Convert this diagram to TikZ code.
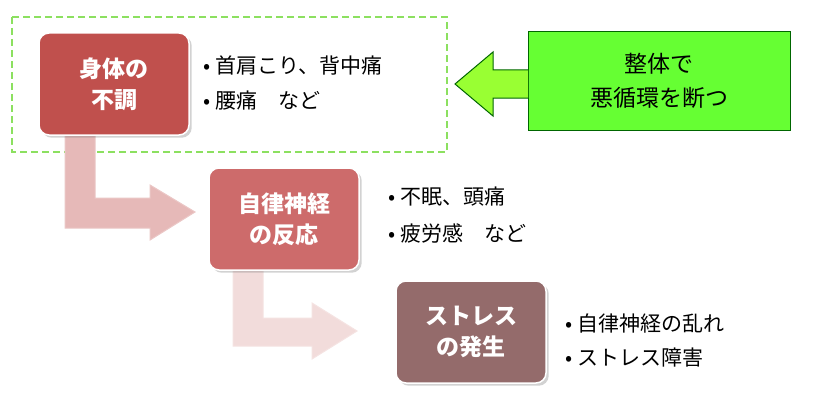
\documentclass[tikz,border=0pt]{standalone}
\usepackage{fontspec}
\setmainfont{Noto Sans CJK JP}
\usetikzlibrary{shadows}
\definecolor{redA}{HTML}{C0504D}
\definecolor{redB}{HTML}{CD6B6B}
\definecolor{redC}{HTML}{946B6B}
\definecolor{pinkA}{HTML}{E6B9B8}
\definecolor{pinkB}{HTML}{F2DCDB}
\definecolor{greenA}{HTML}{66FF33}
\definecolor{greenB}{HTML}{99FF33}
\definecolor{dashG}{HTML}{8CE060}
\tikzset{
	stepbox/.style={draw=white, line width=1.5pt, rounded corners=10pt,
		minimum width=150pt, minimum height=102pt, text=white, font=\fontsize{23}{31}\selectfont\bfseries,
		align=center, drop shadow={opacity=0.35}},
	item/.style={anchor=west, font=\fontsize{21}{25}\selectfont}
}
\begin{document}
\begin{tikzpicture}[x=1pt,y=-1pt]
		\useasboundingbox[fill=white] (0,0) rectangle (833,404);
		
		\draw[dashG, line width=2pt, dash pattern=on 7pt off 4pt] (12,17) rectangle (447,152);
		
		% bent arrows
		\draw[pinkA!80!white, fill=pinkA, line width=1pt] (65,135) -- (95,135) -- (95,198) -- (150,198) -- (150,185) -- (195,212) -- (150,240) -- (150,228) -- (65,228) -- cycle;
		\draw[pinkB!80!white, fill=pinkB, line width=1pt] (233,270) -- (263,270) -- (263,318) -- (312,318) -- (312,303) -- (357,331) -- (312,359) -- (312,346) -- (233,346) -- cycle;
		
		\node[stepbox, fill=redA] (body) at (114,84) {身体の\\不調};
		\node[stepbox, fill=redB] (nerve) at (284,219) {自律神経\\の反応};
		\node[stepbox, fill=redC] (stress) at (471,332) {ストレス\\の発生};
		
		\node[item] (b1) at (200,65) {•\ 首肩こり、背中痛};
		\node[item] (b2) at (200,101) {•\ 腰痛　など};
		\node[item] (n1) at (385,197) {•\ 不眠、頭痛};
		\node[item] (n2) at (385,233) {•\ 疲労感　など};
		\node[item] (s1) at (562,324) {•\ 自律神経の乱れ};
		\node[item] (s2) at (562,358) {•\ ストレス障害};
		
		\node[draw=green!40!black, fill=greenA, line width=1pt, minimum width=262pt, minimum height=98pt,
			align=center, font=\fontsize{23}{34}\selectfont] (cure) at (659,81) {整体で\\悪循環を断つ};
		\draw[green!40!black, fill=greenB, line width=1pt] (528,70) -- (493,70) -- (493,52) -- (455,84) -- (493,116) -- (493,98) -- (528,98);
	\end{tikzpicture}
\end{document}
